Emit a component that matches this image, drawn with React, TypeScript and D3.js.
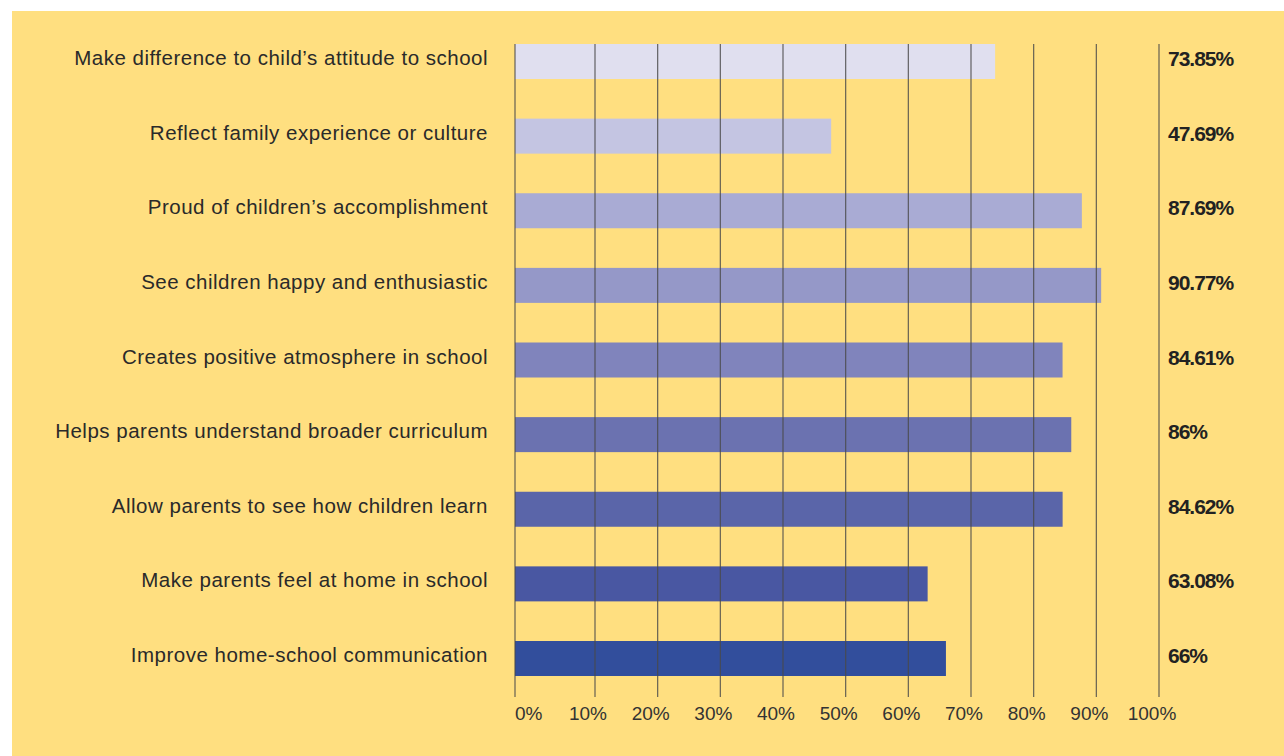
import React from "react";
import * as d3 from "d3";

const categories = [
  "Make difference to child\u2019s attitude to school",
  "Reflect family experience or culture",
  "Proud of children\u2019s accomplishment",
  "See children happy and enthusiastic",
  "Creates positive atmosphere in school",
  "Helps parents understand broader curriculum",
  "Allow parents to see how children learn",
  "Make parents feel at home in school",
  "Improve home-school communication",
];
const values = [73.85, 47.69, 87.69, 90.77, 84.61, 86, 84.62, 63.08, 66];
const valueLabels = ["73.85%", "47.69%", "87.69%", "90.77%", "84.61%", "86%", "84.62%", "63.08%", "66%"];
const barColors = ["#E0DFEF", "#C4C5E2", "#A9ABD4", "#9598C8", "#8084BC", "#6B72B0", "#5A65A9", "#4957A2", "#324E9C"];
const ticks = [0, 10, 20, 30, 40, 50, 60, 70, 80, 90, 100];
const tickLabels = ["0%", "10%", "20%", "30%", "40%", "50%", "60%", "70%", "80%", "90%", "100%"];

const W = 1284;
const H = 756;

export default function App() {
  // the reference axis has a wider first interval
  const x = d3.scaleLinear().domain([0, 10, 100]).range([515, 595, 1159]);
  const y = d3.scaleBand<string>().domain(categories).range([44, 676]).paddingInner(0.531).paddingOuter(0).align(0);
  const font = "'Liberation Sans', Arial, Helvetica, sans-serif";
  return (
    <svg width={W} height={H} style={{ position: "absolute", left: 0, top: 0, display: "block" }}>
      <rect x={0} y={0} width={W} height={H} fill="#ffffff" />
      <rect x={12} y={11} width={W - 12} height={H - 11} fill="#FFDF80" />
      {categories.map((c, i) => (
        <rect key={c} x={x(0)} y={y(c)!} width={x(values[i]) - x(0)} height={y.bandwidth()} fill={barColors[i]} />
      ))}
      {ticks.map((t) => (
        <line key={t} x1={x(t)} x2={x(t)} y1={44} y2={697} stroke="#4a4a4a" strokeOpacity={0.85} strokeWidth={1.2} />
      ))}
      {categories.map((c) => (
        <text key={c} x={488} y={y(c)! + y.bandwidth() / 2 + 3.5} textAnchor="end" fontFamily={font} fontSize={20.5} letterSpacing={0.5} fill="#2a2a2a">
          {c}
        </text>
      ))}
      {categories.map((c, i) => (
        <text key={c} x={1168} y={y(c)! + y.bandwidth() / 2 + 4.5} textAnchor="start" fontFamily={font} fontSize={21} fontWeight="bold" letterSpacing={-1} fill="#222">
          {valueLabels[i]}
        </text>
      ))}
      {ticks.map((t, i) => (
        <text key={t} x={t === 0 ? x(t) : x(t) - 7} y={720} textAnchor={t === 0 ? "start" : "middle"} fontFamily={font} fontSize={19} fill="#333">
          {tickLabels[i]}
        </text>
      ))}
    </svg>
  );
}
